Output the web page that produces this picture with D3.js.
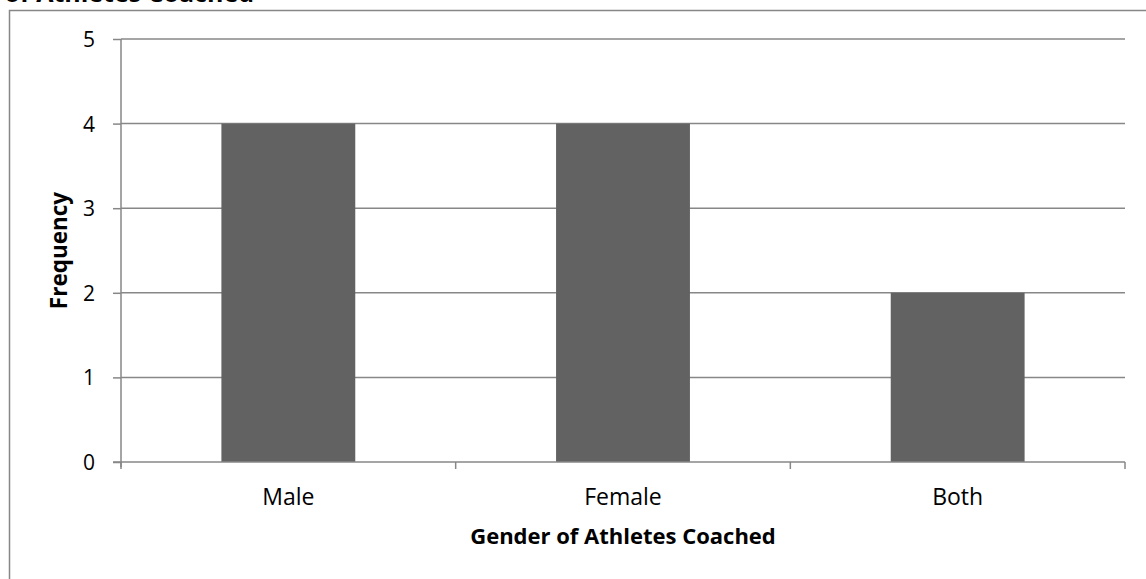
<!DOCTYPE html>
<html>
<head>
<meta charset="utf-8">
<script src="https://cdn.jsdelivr.net/npm/d3@7"></script>
<style>
  html, body { margin: 0; padding: 0; background: #fff; }
  svg { display: block; }
  text { font-family: "Open Sans", "Liberation Sans", sans-serif; fill: #000; }
</style>
</head>
<body>
<script>
const categories = ["Male", "Female", "Both"];
const values = [4, 4, 2];
const yTicks = [0, 1, 2, 3, 4, 5];
const chartTitle = "Gender of Athletes Coached";
const xTitle = "Gender of Athletes Coached";
const yTitle = "Frequency";

const W = 1146, H = 579;
const plot = { left: 121, right: 1125, top: 39, bottom: 462 };

const svg = d3.select("body").append("svg")
  .attr("width", W).attr("height", H);

// outer chart border (extends beyond the crop)
svg.append("rect")
  .attr("x", 9.5).attr("y", 10.5)
  .attr("width", 1200).attr("height", 700)
  .attr("fill", "none").attr("stroke", "#878787").attr("stroke-width", 1.5);

// clipped title at top
svg.append("text")
  .attr("x", 254).attr("y", 2)
  .attr("text-anchor", "end")
  .attr("font-weight", "bold")
  .attr("font-size", 25)
  .text(chartTitle);

const x = d3.scaleBand()
  .domain(categories)
  .range([plot.left, plot.right])
  .paddingInner(0.6)
  .paddingOuter(0.3);

const xEdge = d3.scaleLinear().domain([0, categories.length]).range([plot.left, plot.right]);

const y = d3.scaleLinear().domain([0, 5]).range([plot.bottom, plot.top]);

// gridlines
svg.append("g").selectAll("line").data(yTicks.filter(d => d > 0)).join("line")
  .attr("x1", plot.left).attr("x2", plot.right)
  .attr("y1", d => y(d)).attr("y2", d => y(d))
  .attr("stroke", "#878787").attr("stroke-width", 1.5);

// bars
svg.append("g").selectAll("rect").data(values).join("rect")
  .attr("x", (d, i) => x(categories[i]))
  .attr("width", x.bandwidth())
  .attr("y", d => y(d))
  .attr("height", d => y(0) - y(d))
  .attr("fill", "#626262");

// y axis
const yAxis = d3.axisLeft(y).tickValues(yTicks).tickSize(8).tickPadding(18).tickFormat(d3.format("d"));
const gy = svg.append("g").attr("transform", `translate(${plot.left},0)`).call(yAxis);
gy.select(".domain").attr("stroke", "#878787").attr("stroke-width", 1.5).attr("d", `M0,${plot.top}V${plot.bottom + 5}`);
gy.selectAll(".tick line").attr("stroke", "#878787").attr("stroke-width", 1.5);
gy.selectAll(".tick text").attr("font-size", 21).attr("font-family", "Open Sans").attr("fill", "#000").attr("dy", "0.36em");

// x axis baseline and ticks
const gx = svg.append("g");
gx.append("line")
  .attr("x1", plot.left - 8).attr("x2", plot.right)
  .attr("y1", y(0)).attr("y2", y(0))
  .attr("stroke", "#878787").attr("stroke-width", 1.5);
gx.selectAll("line.t").data(d3.range(categories.length + 1)).join("line")
  .attr("class", "t")
  .attr("x1", d => xEdge(d)).attr("x2", d => xEdge(d))
  .attr("y1", y(0)).attr("y2", y(0) + 7)
  .attr("stroke", "#878787").attr("stroke-width", 1.5);
gx.selectAll("text").data(categories).join("text")
  .attr("x", d => x(d) + x.bandwidth() / 2)
  .attr("y", 505)
  .attr("text-anchor", "middle")
  .attr("font-size", 23)
  .text(d => d);

// axis titles
svg.append("text")
  .attr("x", (plot.left + plot.right) / 2).attr("y", 544)
  .attr("text-anchor", "middle")
  .attr("font-weight", "bold")
  .attr("font-size", 22)
  .text(xTitle);

svg.append("text")
  .attr("transform", `translate(67,${(plot.top + plot.bottom) / 2}) rotate(-90)`)
  .attr("text-anchor", "middle")
  .attr("font-weight", "bold")
  .attr("font-size", 22.5)
  .text(yTitle);
</script>
</body>
</html>
